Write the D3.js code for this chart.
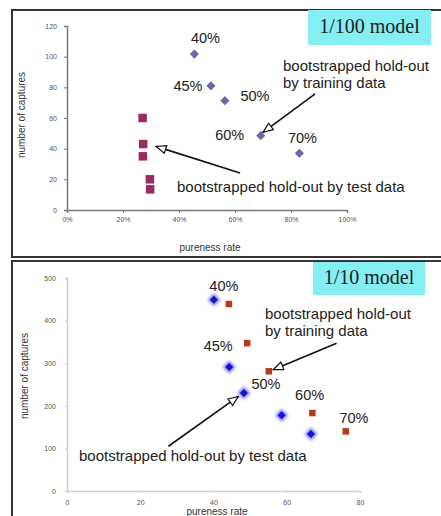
<!DOCTYPE html>
<html>
<head>
<meta charset="utf-8">
<script src="https://cdn.jsdelivr.net/npm/d3@7"></script>
<style>
  body { margin: 0; background: #fff; }
  svg { display: block; }
  .tick text { font-family: "Liberation Sans", Arial, sans-serif; }
</style>
</head>
<body>
<svg id="canvas" width="441" height="516"></svg>
<script>
// ---- data: 1/100 model ----
let pctLabels = ['40%', '45%', '50%', '60%', '70%']
let top_trainPure = [0.455, 0.514, 0.564, 0.692, 0.830]
let top_trainCaps = [101.7, 81, 71.3, 48.5, 37]
let top_testPure = [0.270, 0.272, 0.271, 0.296, 0.297]
let top_testCaps = [60, 43, 35, 20, 13.5]
let top_xTicks = [0, 0.2, 0.4, 0.6, 0.8, 1.0]
let top_yTicks = [0, 20, 40, 60, 80, 100, 120]

// ---- data: 1/10 model ----
let bot_trainPure = [40.1, 44.3, 48.3, 58.6, 66.6]
let bot_trainCaps = [449, 291, 230, 178, 134]
let bot_testPure = [44.2, 49.2, 55.1, 67.0, 76.1]
let bot_testCaps = [439, 347, 281, 183, 140]
let bot_xTicks = [0, 20, 40, 60, 80]
let bot_yTicks = [0, 100, 200, 300, 400, 500]

let svg = d3.select('#canvas')
let sans = '"Liberation Sans", Arial, sans-serif'

// arrow heads (open triangle)
svg.append('defs').html(`
  <marker id="openHead" viewBox="0 0 12 10" refX="11" refY="5" markerWidth="12" markerHeight="10"
          markerUnits="userSpaceOnUse" orient="auto">
    <path d="M1,1 L11,5 L1,9 Z" fill="#fff" stroke="#111" stroke-width="1.2"/>
  </marker>
  <filter id="glow" x="-1" y="-1" width="3" height="3">
    <feGaussianBlur stdDeviation="1.6"/>
  </filter>`)

let diamond = (x, y, r) => `M${x},${y - r}L${x + r},${y}L${x},${y + r}L${x - r},${y}Z`

let drawPanel = (cfg) => {
    let g = svg.append('g')
    // panel frame
    g.append('rect')
     .attr('x', cfg.frame[0]).attr('y', cfg.frame[1])
     .attr('width', cfg.frame[2]).attr('height', cfg.frame[3])
     .attr('fill', 'none').attr('stroke', '#333').attr('stroke-width', 2)

    let x = cfg.x, y = cfg.y

    let xAxis = g.append('g')
      .attr('transform', `translate(0,${y.range()[0]})`)
      .call(d3.axisBottom(x).tickValues(cfg.xTicks).tickFormat(cfg.xFmt).tickSize(cfg.tickSize).tickPadding(cfg.xPad))
    let yAxis = g.append('g')
      .attr('transform', `translate(${x.range()[0]},0)`)
      .call(d3.axisLeft(y).tickValues(cfg.yTicks).tickSize(cfg.tickSize).tickPadding(cfg.yPad))
    for (let ax of [xAxis, yAxis]) {
        ax.select('.domain').attr('stroke', cfg.axisColor).attr('stroke-width', 1.5)
        ax.selectAll('.tick line').attr('stroke', cfg.axisColor)
        ax.selectAll('.tick text').attr('fill', '#555').style('font-size', '7px')
    }

    // axis titles
    g.append('text')
     .attr('transform', `translate(${cfg.yTitle[0]},${cfg.yTitle[1]}) rotate(-90)`)
     .attr('text-anchor', 'middle').attr('dominant-baseline', 'middle')
     .style('font-family', sans).style('font-size', '10px').attr('fill', '#333')
     .text('number of captures')
    g.append('text')
     .attr('x', cfg.xTitle[0]).attr('y', cfg.xTitle[1])
     .attr('text-anchor', 'middle').attr('dominant-baseline', 'middle')
     .style('font-family', sans).style('font-size', '10px').attr('fill', '#333')
     .text('pureness rate')

    // test-data squares
    g.selectAll('rect.test')
     .data(d3.zip(cfg.testPure, cfg.testCaps))
     .enter()
     .append('rect')
     .attr('class', 'test')
     .attr('x', d => x(d[0]) - cfg.sq / 2)
     .attr('y', d => y(d[1]) - cfg.sq / 2)
     .attr('width', cfg.sq).attr('height', cfg.sq)
     .attr('fill', cfg.testColor)

    // training-data diamonds
    let train = d3.zip(cfg.trainPure, cfg.trainCaps)
    if (cfg.glow) {
        g.selectAll('path.halo')
         .data(train).enter().append('path')
         .attr('class', 'halo')
         .attr('d', d => diamond(x(d[0]), y(d[1]), 6.5))
         .attr('fill', '#6a6af0').attr('opacity', 0.85).attr('filter', 'url(#glow)')
    }
    g.selectAll('path.train')
     .data(train).enter().append('path')
     .attr('class', 'train')
     .attr('d', d => diamond(x(d[0]), y(d[1]), cfg.dr))
     .attr('fill', cfg.trainColor)

    // threshold labels next to diamonds
    g.selectAll('text.pct')
     .data(train).enter().append('text')
     .attr('class', 'pct')
     .attr('x', (d, i) => x(d[0]) + cfg.labelOff[i][0])
     .attr('y', (d, i) => y(d[1]) + cfg.labelOff[i][1])
     .attr('text-anchor', 'middle').attr('dominant-baseline', 'middle')
     .style('font-family', sans).style('font-size', '14.5px').attr('fill', '#222')
     .text((d, i) => pctLabels[i])

    // callout box
    g.append('rect')
     .attr('x', cfg.box[0]).attr('y', cfg.box[1]).attr('width', cfg.box[2]).attr('height', cfg.box[3])
     .attr('fill', '#84eef3')
    g.append('text')
     .attr('x', cfg.box[0] + cfg.box[2] / 2).attr('y', cfg.box[1] + cfg.box[3] / 2 + 1)
     .attr('text-anchor', 'middle').attr('dominant-baseline', 'middle')
     .style('font-family', '"Liberation Serif", "Times New Roman", serif').style('font-size', '20px')
     .attr('fill', '#222')
     .text(cfg.title)

    // annotations
    let ann = g.append('g').style('font-family', sans).style('font-size', '15px').attr('fill', '#222')
    cfg.trainText.forEach((t, i) => {
        ann.append('text').attr('x', cfg.trainTextPos[0]).attr('y', cfg.trainTextPos[1] + i * 17.5)
           .attr('dominant-baseline', 'middle').text(t)
    })
    ann.append('text').attr('x', cfg.testTextPos[0]).attr('y', cfg.testTextPos[1])
       .attr('dominant-baseline', 'middle').text('bootstrapped hold-out by test data')

    for (let a of cfg.arrows) {
        g.append('line')
         .attr('x1', x(a[0])).attr('y1', y(a[1]))
         .attr('x2', x(a[2])).attr('y2', y(a[3]))
         .attr('stroke', '#111').attr('stroke-width', 1.6)
         .attr('marker-end', 'url(#openHead)')
    }
}

drawPanel({
    frame: [12, 10, 445, 247],
    x: d3.scaleLinear().domain([0, 1]).range([67, 347]),
    y: d3.scaleLinear().domain([0, 120]).range([210, 26]),
    xTicks: top_xTicks, yTicks: top_yTicks,
    xFmt: d3.format('.0%'), tickSize: 3, xPad: 4, yPad: 7,
    axisColor: '#7a7a7a',
    yTitle: [22, 115], xTitle: [210, 248],
    trainPure: top_trainPure, trainCaps: top_trainCaps,
    testPure: top_testPure, testCaps: top_testCaps,
    sq: 8.5, dr: 4.6, glow: false,
    trainColor: '#6b68aa', testColor: '#9c2a62',
    labelOff: [[11, -15], [-23, 1], [30, -4], [-31, 1], [3, -14]],
    box: [308, 10, 123, 35], title: '1/100 model',
    trainText: ['bootstrapped hold-out', 'by training data'],
    trainTextPos: [283, 67], testTextPos: [177, 188],
    arrows: [[0.886, 75.7, 0.70, 50.6], [0.618, 24.1, 0.318, 41.5]]
})

drawPanel({
    frame: [12, 261, 445, 270],
    x: d3.scaleLinear().domain([0, 80]).range([67, 360]),
    y: d3.scaleLinear().domain([0, 500]).range([491, 278]),
    xTicks: bot_xTicks, yTicks: bot_yTicks,
    xFmt: d3.format('d'), tickSize: 2, xPad: 7, yPad: 9,
    axisColor: '#cfcfcf',
    yTitle: [25, 376], xTitle: [217, 512],
    trainPure: bot_trainPure, trainCaps: bot_trainCaps,
    testPure: bot_testPure, testCaps: bot_testCaps,
    sq: 6.5, dr: 4, glow: true,
    trainColor: '#1414c8', testColor: '#b8391a',
    labelOff: [[10, -13], [-11, -20], [22, -8], [28, -19], [43, -15]],
    box: [313, 262, 112, 33], title: '1/10 model',
    trainText: ['bootstrapped hold-out', 'by training data'],
    trainTextPos: [265, 314.7], testTextPos: [79, 457],
    arrows: [[73.6, 347, 56.3, 284.7], [27.7, 105, 46.8, 222]]
})
</script>
</body>
</html>
